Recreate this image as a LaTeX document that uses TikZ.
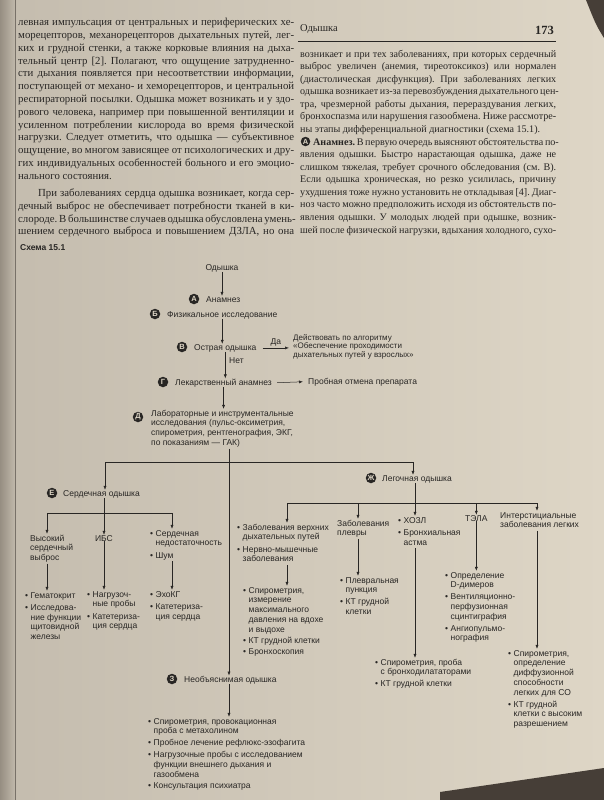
\documentclass[tikz,border=0pt]{standalone}
\usepackage{fontspec}
\setmainfont{Liberation Serif}
\setsansfont{Liberation Sans}
\usetikzlibrary{arrows.meta}
\frenchspacing

\definecolor{paper}{RGB}{214,205,188}
\definecolor{paperL}{RGB}{196,188,174}
\definecolor{paperR}{RGB}{222,214,198}
\definecolor{edge}{RGB}{150,142,130}
\definecolor{dark}{RGB}{70,62,55}
\definecolor{ink}{RGB}{40,38,36}

\newcommand\mybull{\textbullet}
\newcommand\Lline[3]{\node[bodyL] (#1) at (18,#2) {\makebox[276pt][s]{#3}};}
\newcommand\Rline[3]{\node[bodyR] (#1) at (300,#2) {\makebox[256pt][s]{#3}};}

\tikzset{
 bodyL/.style={anchor=base west, inner sep=0pt, text=ink, font=\fontsize{10.8}{12}\selectfont},
 bodyR/.style={anchor=base west, inner sep=0pt, text=ink, font=\fontsize{10.1}{12}\selectfont},
 lbl/.style={anchor=base west, inner sep=0pt, text=ink, font=\sffamily\fontsize{8.5}{9.8}\selectfont},
 lblc/.style={lbl, anchor=base},
 circ/.style={circle, fill=ink, text=paperR, inner sep=0pt, minimum size=10.5pt, font=\sffamily\bfseries\fontsize{7.5}{7.5}\selectfont},
 arr/.style={draw=ink, line width=0.5pt, -{Latex[length=4pt,width=3pt]}},
 ln/.style={draw=ink, line width=0.5pt},
}

\begin{document}
\begin{tikzpicture}[x=1pt,y=-1pt]
\useasboundingbox (0,0) rectangle (604,800);
% paper
\shade[left color=paperL, right color=paperR] (0,0) rectangle (604,800);
\shade[left color=edge, right color=paperL] (0,0) rectangle (16,800);
\draw[edge!80!black, line width=0.4pt] (15,0) -- (15,800);
\fill[dark] (440,800) -- (440,792) -- (604,768) -- (604,800) -- cycle;
\fill[dark] (586,0) -- (604,0) -- (604,38) .. controls (596,25) .. (586,0) -- cycle;

% ---------------- left column text
\Lline{l1}{26}{левная импульсация от центральных и периферических хе-}
\Lline{l2}{38.75}{морецепторов, механорецепторов дыхательных путей, лег-}
\Lline{l3}{51.5}{ких и грудной стенки, а также корковые влияния на дыха-}
\Lline{l4}{64.25}{тельный центр [2]. Полагают, что ощущение затрудненно-}
\Lline{l5}{77}{сти дыхания появляется при несоответствии информации,}
\Lline{l6}{89.75}{поступающей от механо- и хеморецепторов, и центральной}
\Lline{l7}{102.5}{респираторной посылки. Одышка может возникать и у здо-}
\Lline{l8}{115.25}{рового человека, например при повышенной вентиляции и}
\Lline{l9}{128}{усиленном потреблении кислорода во время физической}
\Lline{l10}{140.75}{нагрузки. Следует отметить, что одышка — субъективное}
\Lline{l11}{153.5}{ощущение, во многом зависящее от психологических и дру-}
\Lline{l12}{166.25}{гих индивидуальных особенностей больного и его эмоцио-}
\node[bodyL] (l13) at (18,179) {нального состояния.};
\node[bodyL] (l14) at (38,196) {\makebox[256pt][s]{При заболеваниях сердца одышка возникает, когда сер-}};
\Lline{l15}{209}{дечный выброс не обеспечивает потребности тканей в ки-}
\Lline{l16}{222}{слороде. В большинстве случаев одышка обусловлена умень-}
\Lline{l17}{234.5}{шением сердечного выброса и повышением ДЗЛА, но она}

% ---------------- right column
\node[bodyR, font=\fontsize{10.5}{12}\selectfont] (hdr) at (300,32) {Одышка};
\node[anchor=base east, inner sep=0pt, text=ink, font=\bfseries\fontsize{12.5}{14}\selectfont] (pg) at (554,35) {173};
\draw[ink, line width=0.6pt] (298,41) -- (556,41);
\Rline{r1}{57}{возникает и при тех заболеваниях, при которых сердечный}
\Rline{r2}{69.6}{выброс увеличен (анемия, тиреотоксикоз) или нормален}
\Rline{r3}{82.1}{(диастолическая дисфункция). При заболеваниях легких}
\Rline{r4}{94.7}{одышка возникает из-за перевозбуждения дыхательного цен-}
\Rline{r5}{107.3}{тра, чрезмерной работы дыхания, перераздувания легких,}
\Rline{r6}{119.9}{бронхоспазма или нарушения газообмена. Ниже рассмотре-}
\node[bodyR] (r7) at (300,132.4) {ны этапы дифференциальной диагностики (схема 15.1).};
\node[circ, minimum size=9.5pt] (rA) at (305.5,141.5) {А};
\node[bodyR] (r8) at (313,145) {\makebox[243pt][s]{\textbf{Анамнез.} В первую очередь выясняют обстоятельства по-}};
\Rline{r9}{157.6}{явления одышки. Быстро нарастающая одышка, даже не}
\Rline{r10}{170.1}{слишком тяжелая, требует срочного обследования (см. В).}
\Rline{r11}{182.7}{Если одышка хроническая, но резко усилилась, причину}
\Rline{r12}{195.3}{ухудшения тоже нужно установить не откладывая [4]. Диаг-}
\Rline{r13}{207.8}{ноз часто можно предположить исходя из обстоятельств по-}
\Rline{r14}{220.4}{явления одышки. У молодых людей при одышке, возник-}
\Rline{r15}{233}{шей после физической нагрузки, вдыхания холодного, сухо-}

% ---------------- scheme
\node[lbl, font=\sffamily\bfseries\fontsize{8.5}{9.8}\selectfont] (schema) at (20,250) {Схема 15.1};
\node[lblc] (od) at (222,270) {Одышка};
\node[circ] (cA) at (194,299) {А};
\node[lbl] (anam) at (206,302) {Анамнез};
\node[circ] (cB) at (155,314) {Б};
\node[lbl] (fiz) at (167,317) {Физикальное исследование};
\node[circ] (cV) at (182,347) {В};
\node[lbl] (ostr) at (194,350) {Острая одышка};
\node[lbl, font=\sffamily\fontsize{8}{8.8}\selectfont] (act) at (293,340) {\begin{tabular}[t]{@{}l@{}}Действовать по алгоритму\\«Обеспечение проходимости\\дыхательных путей у взрослых»\end{tabular}};
\node[lbl] (net) at (229,363) {Нет};
\node[circ] (cG) at (163,382) {Г};
\node[lbl] (lek) at (175,385) {Лекарственный анамнез};
\node[lbl] (prob) at (308,384) {Пробная отмена препарата};
\node[circ] (cD) at (138,417) {Д};
\node[lbl] (lab) at (151,416) {\begin{tabular}[t]{@{}l@{}}Лабораторные и инструментальные\\исследования (пульс-оксиметрия,\\спирометрия, рентгенография, ЭКГ,\\по показаниям — ГАК)\end{tabular}};

\draw[arr] (od.south) -- (od.south |- anam.north);
\draw[arr] (fiz.south) -- (fiz.south |- ostr.north);
\draw[arr] ([xshift=6pt]ostr.east) -- ([xshift=-4pt]act.west |- ostr.east) node[midway, above=1pt, lbl, anchor=south] (da) {Да};
\draw[arr] (ostr.south) -- (ostr.south |- lek.north);
\draw[arr] ([xshift=5pt]lek.east) -- ([xshift=-5pt]prob.west);
\draw[arr] (lek.south) -- (lek.south |- lab.north);

% main split
\coordinate (m) at (229,0);
\coordinate (hL) at (105,462);
\coordinate (hR) at (413,462);
\draw[ln] (hL) -- (hR);

% cardiac
\node[circ] (cE) at (52,493) {Е};
\node[lbl] (card) at (63,496) {Сердечная одышка};
\node[circ] (cZh) at (371,478) {Ж};
\node[lbl] (pulm) at (382,481) {Легочная одышка};
\draw[arr] (hL) -- (hL |- card.north);
\draw[arr] (hR) -- (hR |- pulm.north);

\node[lbl] (vys) at (30,541) {\begin{tabular}[t]{@{}l@{}}Высокий\\сердечный\\выброс\end{tabular}};
\node[lblc] (ibs) at (104,541) {ИБС};
\node[lbl] (hf) at (150,536) {\begin{tabular}[t]{@{}l@{\hspace{2.5pt}}l@{}}\mybull & Сердечная\\ & недостаточность\\[2.5pt] \mybull & Шум\end{tabular}};
\coordinate (cL) at (47,513);
\coordinate (cR) at (172,513);
\draw[ln] (cL) -- (cR);
\draw[arr] (card.south -| ibs) -- (ibs.north);
\draw[arr] (cL) -- (cL |- vys.north);
\draw[arr] (cR) -- (cR |- hf.north);

\node[lbl] (gem) at (25,598) {\begin{tabular}[t]{@{}l@{\hspace{2.5pt}}l@{}}\mybull & Гематокрит\\[2.5pt] \mybull & Исследова-\\ & ние функции\\ & щитовидной\\ & железы\end{tabular}};
\node[lbl] (nag) at (87,597) {\begin{tabular}[t]{@{}l@{\hspace{2.5pt}}l@{}}\mybull & Нагрузоч-\\ & ные пробы\\[2.5pt] \mybull & Катетериза-\\ & ция сердца\end{tabular}};
\node[lbl] (echo) at (150,597) {\begin{tabular}[t]{@{}l@{\hspace{2.5pt}}l@{}}\mybull & ЭхоКГ\\[2.5pt] \mybull & Катетериза-\\ & ция сердца\end{tabular}};
\draw[arr] (vys.south -| cL) -- (cL |- gem.north);
\draw[arr] (ibs.south) -- (ibs.south |- nag.north);
\draw[arr] (hf.south -| cR) -- (cR |- echo.north);

% pulmonary
\node[lbl] (upper) at (237,530) {\begin{tabular}[t]{@{}l@{\hspace{2.5pt}}l@{}}\mybull & Заболевания верхних\\ & дыхательных путей\\[2.5pt] \mybull & Нервно-мышечные\\ & заболевания\end{tabular}};
\node[lbl] (pleura) at (337,526) {\begin{tabular}[t]{@{}l@{}}Заболевания\\плевры\end{tabular}};
\node[lbl] (copd) at (398,523) {\begin{tabular}[t]{@{}l@{\hspace{2.5pt}}l@{}}\mybull & ХОЗЛ\\[2.5pt] \mybull & Бронхиальная\\ & астма\end{tabular}};
\node[lbl] (tepa) at (465,521) {ТЭЛА};
\node[lbl] (ild) at (500,518) {\begin{tabular}[t]{@{}l@{}}Интерстициальные\\заболевания легких\end{tabular}};
\coordinate (pL) at (287,503);
\coordinate (pP) at (358,503);
\coordinate (pC) at (415,503);
\coordinate (pR) at (537,503);
\draw[ln] (pL) -- (pR);
\draw[arr] (pulm.south -| pC) -- (pC |- copd.north);
\draw[arr] (pL) -- (pL |- upper.north);
\draw[arr] (pP) -- (pP |- pleura.north);
\draw[arr] (tepa.north |- pL) -- (tepa.north);
\draw[arr] (pR) -- (pR |- ild.north);

\node[lbl] (spiro) at (243,593) {\begin{tabular}[t]{@{}l@{\hspace{2.5pt}}l@{}}\mybull & Спирометрия,\\ & измерение\\ & максимального\\ & давления на вдохе\\ & и выдохе\\[1.5pt] \mybull & КТ грудной клетки\\[1.5pt] \mybull & Бронхоскопия\end{tabular}};
\node[lbl] (plp) at (340,583) {\begin{tabular}[t]{@{}l@{\hspace{2.5pt}}l@{}}\mybull & Плевральная\\ & пункция\\[2pt] \mybull & КТ грудной\\ & клетки\end{tabular}};
\node[lbl] (tl) at (445,578) {\begin{tabular}[t]{@{}l@{\hspace{2.5pt}}l@{}}\mybull & Определение\\ & D-димеров\\[2pt] \mybull & Вентиляционно-\\ & перфузионная\\ & сцинтиграфия\\[2pt] \mybull & Ангиопульмо-\\ & нография\end{tabular}};
\node[lbl] (cl) at (375,665) {\begin{tabular}[t]{@{}l@{\hspace{2.5pt}}l@{}}\mybull & Спирометрия, проба\\ & с бронходилататорами\\[2pt] \mybull & КТ грудной клетки\end{tabular}};
\node[lbl] (il) at (508,656) {\begin{tabular}[t]{@{}l@{\hspace{2.5pt}}l@{}}\mybull & Спирометрия,\\ & определение\\ & диффузионной\\ & способности\\ & легких для СО\\[2pt] \mybull & КТ грудной\\ & клетки с высоким\\ & разрешением\end{tabular}};
\draw[arr] (upper.south -| pL) -- (pL |- spiro.north);
\draw[arr] (pleura.south -| pP) -- (pP |- plp.north);
\draw[arr] (copd.south -| pC) -- (pC |- cl.north);
\draw[arr] (tepa.south) -- (tepa.south |- tl.north);
\draw[arr] (ild.south -| pR) -- (pR |- il.north);

% unexplained
\node[circ] (cZ) at (172,679) {З};
\node[lbl] (unx) at (184,682) {Необъяснимая одышка};
\node[lbl] (ul) at (148,724) {\begin{tabular}[t]{@{}l@{\hspace{2.5pt}}l@{}}\mybull & Спирометрия, провокационная\\ & проба с метахолином\\[2pt] \mybull & Пробное лечение рефлюкс-эзофагита\\[2pt] \mybull & Нагрузочные пробы с исследованием\\ & функции внешнего дыхания и\\ & газообмена\\[2pt] \mybull & Консультация психиатра\end{tabular}};
\draw[arr] (lab.south -| m) -- (m |- unx.north);
\draw[arr] (unx.south -| m) -- (m |- ul.north);
\end{tikzpicture}
\end{document}
